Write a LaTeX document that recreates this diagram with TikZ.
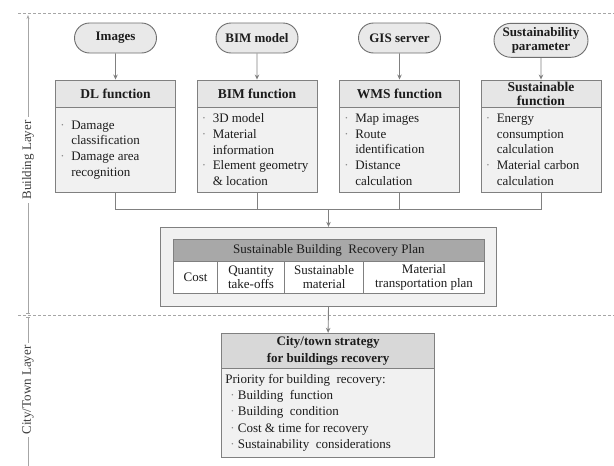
\documentclass[tikz,border=0pt]{standalone}
\usepackage{fontspec}
\setmainfont{Liberation Serif}
\usetikzlibrary{shapes.misc,arrows.meta,calc}
\definecolor{edge}{HTML}{808080}
\definecolor{darkedge}{HTML}{6E6E6E}
\definecolor{txt}{HTML}{1C1C1C}
\definecolor{pillfill}{HTML}{E9E9E9}
\definecolor{headfill}{HTML}{E6E6E6}
\definecolor{bodyfill}{HTML}{F1F1F1}
\definecolor{planhead}{HTML}{A8A8A8}
\definecolor{cityhead}{HTML}{D8D8D8}
\definecolor{dashc}{HTML}{A6A6A6}
\definecolor{bulc}{HTML}{8C8C8C}
\newcommand\bul{\makebox[11pt][l]{\textcolor{bulc}{·}}}
\newcommand\cnt{\hspace*{11pt}}
\newcommand\cbul{\hspace*{5pt}\makebox[7.5pt][l]{\textcolor{bulc}{·}}}
\tikzset{
  pill/.style={rounded rectangle, draw=darkedge, line width=0.9pt, fill=pillfill,
    font=\bfseries\fontsize{13}{14.5}\selectfont, text=txt, minimum height=30,
    minimum width=84, inner sep=1pt, align=center},
  fhead/.style={rectangle, draw=edge, line width=0.9pt, fill=headfill,
    minimum width=120, minimum height=27, inner sep=0pt, align=center,
    font=\bfseries\fontsize{13.5}{14}\selectfont, text=txt},
  fbody/.style={rectangle, draw=edge, line width=0.9pt, fill=bodyfill,
    minimum width=120, minimum height=85.5, inner sep=0pt},
  btext/.style={anchor=west, inner sep=0pt, align=left,
    font=\fontsize{13}{15.7}\selectfont, text=txt},
  link/.style={draw=edge, line width=0.9pt},
  arr/.style={link, -{Stealth[length=5pt,width=4.5pt]}},
  planbox/.style={rectangle, draw=edge, line width=0.9pt, fill=bodyfill,
    minimum width=336, minimum height=79.4, inner sep=0pt},
  phead/.style={rectangle, draw=edge, line width=0.9pt, fill=planhead,
    minimum width=310.8, minimum height=22.4, inner sep=0pt,
    font=\fontsize{13}{14}\selectfont, text=txt},
  pcell/.style={rectangle, draw=edge, line width=0.9pt, fill=white,
    minimum height=31.3, inner sep=0pt, align=center,
    font=\fontsize{13}{14}\selectfont, text=txt},
  chead/.style={rectangle, draw=edge, line width=0.9pt, fill=cityhead,
    minimum width=213, minimum height=35, inner sep=0pt, align=center,
    font=\bfseries\fontsize{13}{16.5}\selectfont, text=txt},
  cbody/.style={rectangle, draw=edge, line width=0.9pt, fill=bodyfill,
    minimum width=213, minimum height=89, inner sep=0pt},
  ctext/.style={anchor=west, inner sep=0pt, align=left,
    font=\fontsize{13}{16.2}\selectfont, text=txt},
  dline/.style={draw=dashc, line width=0.9pt, dash pattern=on 3pt off 2pt},
  axisline/.style={draw=dashc, line width=0.9pt},
  axislabel/.style={rotate=90, fill=white, inner xsep=3pt, inner ysep=0pt,
    font=\fontsize{13}{14}\selectfont, text=txt!85}
}
\begin{document}
\begin{tikzpicture}[x=1pt,y=-1pt]
\useasboundingbox (0,0) rectangle (614,466);
\fill[white] (0,0) rectangle (614,466);

% layer separators
\draw[dline] (18,13.3) -- (614,13.3);
\draw[dline] (18,315.5) -- (614,315.5);

% layer axis
\draw[axisline, -{Stealth[length=4pt,width=3pt]}] (28,314) -- (28,15);
\draw[axisline] (28,317) -- (28,466);
\draw[axisline] (26,313.5) -- (30,313.5);
\draw[axisline] (26,317.5) -- (30,317.5);
\node[axislabel] (bl) at (28,160) {Building Layer};
\node[axislabel] (cl) at (28,390) {City/Town Layer};

% input pills
\node[pill] (img) at (115.5,38) {Images};
\node[pill] (bim) at (257,38) {BIM model};
\node[pill] (gis) at (399.5,38) {GIS server};
\node[pill, minimum width=96, minimum height=34] (sus) at (541,40.3) {Sustainability\\parameter};

% function boxes
\node[fhead] (dlh) at (115.5,93.5) {DL function};
\node[fbody] (dlb) at (115.5,149.75) {};
\node[btext] (dlt) at ([xshift=5pt]dlb.west) {\bul Damage\\\cnt classification\\\bul Damage area\\\cnt recognition};

\node[fhead] (bimh) at (257,93.5) {BIM function};
\node[fbody] (bimb) at (257,149.75) {};
\node[btext] (bimt) at ([xshift=5pt]bimb.west) {\bul 3D model\\\bul Material\\\cnt information\\\bul Element geometry\\\cnt \& location};

\node[fhead] (wmsh) at (399.5,93.5) {WMS function};
\node[fbody] (wmsb) at (399.5,149.75) {};
\node[btext] (wmst) at ([xshift=5pt]wmsb.west) {\bul Map images\\\bul Route\\\cnt identification\\\bul Distance\\\cnt calculation};

\node[fhead] (sfh) at (541,93.5) {Sustainable\\function};
\node[fbody] (sfb) at (541,149.75) {};
\node[btext] (sft) at ([xshift=5pt]sfb.west) {\bul Energy\\\cnt consumption\\\cnt calculation\\\bul Material carbon\\\cnt calculation};

% pill to function arrows
\draw[arr] (img) -- (dlh);
\draw[arr] (bim) -- (bimh);
\draw[arr] (gis) -- (wmsh);
\draw[arr] (sus) -- (sfh);

% plan box
\node[planbox] (plan) at (328.5,267) {};
\node[phead] (ph) at (328.9,250.5) {Sustainable Building\ \ Recovery Plan};
\node[pcell, minimum width=44] (c1) at (195.5,277.35) {Cost};
\node[pcell, minimum width=67] (c2) at (251,277.35) {Quantity\\take-offs};
\node[pcell, minimum width=79.2] (c3) at (324.1,277.35) {Sustainable\\material};
\node[pcell, minimum width=120.6] (c4) at (424,277.35) {Material\\transportation plan};

% merge connectors
\coordinate (jn) at (328.5,209.3);
\draw[link] (dlb.south) |- (sfb.south |- jn) -- (sfb.south);
\draw[link] (bimb.south) -- (bimb.south |- jn);
\draw[link] (wmsb.south) -- (wmsb.south |- jn);
\draw[arr] (jn) -- (plan.north);

% city box
\node[chead] (ch) at (328.1,350.8) {City/town strategy\\for buildings recovery};
\node[cbody] (cb) at (328.1,412.8) {};
\node[ctext] (ct) at ([xshift=4pt]cb.west) {Priority for building\ \ recovery:\\\cbul Building\ \ function\\\cbul Building\ \ condition\\\cbul Cost \& time for recovery\\\cbul Sustainability\ \ considerations};

\draw[arr] (plan.south) -- (ch.north);
\end{tikzpicture}
\end{document}
